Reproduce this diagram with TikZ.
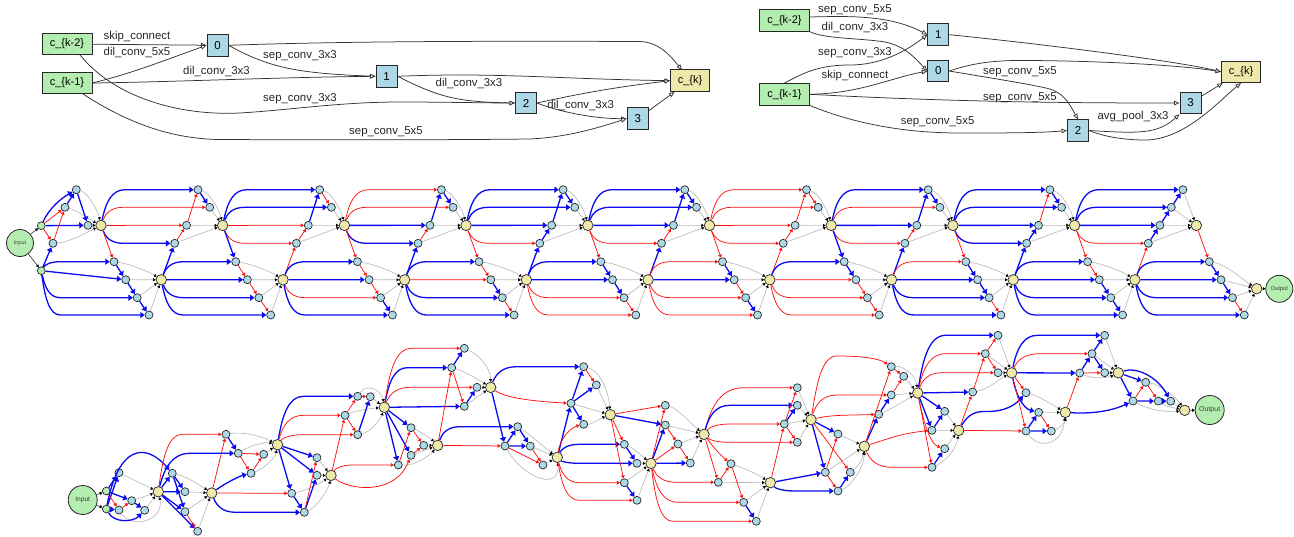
\documentclass[tikz,border=0pt]{standalone}
\usepackage{fontspec}
\setmainfont{Liberation Sans}
\usetikzlibrary{arrows.meta,calc}
\definecolor{ngreen}{HTML}{B4EDB0}
\definecolor{nblue}{HTML}{ADD8E6}
\definecolor{nyellow}{HTML}{EEE8AA}
\definecolor{redge}{HTML}{FF1010}
\definecolor{bedge}{HTML}{0A0AF0}
\tikzset{
  bb/.style={draw=bedge,line width=1.3pt,-{Triangle[length=4.4pt,width=6pt]}},
  rr/.style={draw=redge,line width=0.75pt,-{Triangle[length=3pt,width=3.6pt]}},
  gg/.style={draw=black!27,line width=0.65pt,-{Triangle[black,length=2.6pt,width=3.2pt]}},
  kk/.style={draw=black!80,line width=0.6pt,-{Triangle[black,length=2.6pt,width=3.2pt]}},
  te/.style={draw=black!80,line width=0.75pt,-{Triangle[open,fill=white,length=5.5pt,width=4.5pt]}},
  bn/.style={circle,draw=black!85,fill=nblue,line width=0.7pt,minimum size=8pt,inner sep=0pt},
  yn/.style={circle,draw=black!85,fill=nyellow,line width=0.7pt,minimum size=10.5pt,inner sep=0pt},
  gn/.style={circle,draw=black!85,fill=ngreen,line width=0.7pt,minimum size=7.8pt,inner sep=0pt},
  io/.style={circle,draw=black!85,fill=ngreen,line width=0.8pt,inner sep=0pt,text=black!75},
  boxg/.style={draw=black!85,fill=ngreen,line width=1pt,minimum height=21.5pt,minimum width=50pt,inner sep=0pt,font=\fontsize{11}{12}\selectfont},
  boxb/.style={draw=black!85,fill=nblue,line width=1pt,minimum height=21.5pt,minimum width=21pt,inner sep=0pt,font=\fontsize{11.5}{12}\selectfont},
  boxy/.style={draw=black!85,fill=nyellow,line width=1pt,minimum height=21.5pt,minimum width=39pt,inner sep=0pt,font=\fontsize{11}{12}\selectfont},
  lab/.style={inner sep=0pt,text=black!85,font=\fontsize{11.4}{12}\selectfont},
}
\newcommand\edgeS[3]{\draw[#1] (#2) -- (#3);}
\newcommand\edgeA[4]{\draw[#1] let \p1=(#2),\p2=(#3) in (#2) .. controls ({\x1+0.2*#4*1pt},{\y1+0.65*(\y2-\y1)}) and ({\x1+0.45*#4*1pt},\y2) .. ({\x1+#4*1pt},\y2) -- (#3);}
\newcommand\edgeB[5]{\draw[#1] (#2) .. controls #3 and #4 .. (#5);}
\newcommand\edgeC[4]{\draw[#1] (#2) #3 (#4);}
\begin{document}
\begin{tikzpicture}[x=1pt,y=-1pt]
\useasboundingbox (0,0) rectangle (1294,536);
% ---------- top left cell
\node[boxg] (a2) at (67,44) {c\_\{k-2\}};
\node[boxg] (a1) at (67,83) {c\_\{k-1\}};
\node[boxb] (a0n) at (217.5,45.3) {0};
\node[boxb] (a1n) at (386.5,76.3) {1};
\node[boxb] (a2n) at (526,103) {2};
\node[boxb] (a3n) at (637.7,118.7) {3};
\node[boxy] (ak) at (690,80.7) {c\_\{k\}};
\coordinate (a2s) at (80,55);
\coordinate (a1s) at (83,94);
\coordinate (akt) at (682,70);
\edgeS{te}{a2}{a0n}
\edgeB{te}{a1.east}{+(40,-10)}{+(-50,18)}{a0n.west}
\edgeB{te}{a1.east}{+(80,-1)}{+(-100,1)}{a1n.west}
\edgeB{te}{a0n.east}{+(40,22)}{+(-80,-3)}{a1n.west}
\edgeC{te}{a0n.east}{.. controls (350,41) and (500,41) .. (640,41.5) .. controls (660,42) and (672,58) ..}{akt}
\edgeB{te}{a1n.east}{+(100,-4)}{+(-120,-2)}{ak.west}
\edgeB{te}{a1n.east}{+(40,20)}{+(-60,-1)}{a2n.west}
\edgeC{te}{a2s}{.. controls (115,98) and (180,116) .. (240,113) .. controls (290,110) and (340,102) .. (400,102) .. controls (440,102) and (490,103) ..}{a2n.west}
\edgeB{te}{a2n.east}{+(50,-11)}{+(-50,6)}{ak.west}
\edgeB{te}{a2n.east}{+(20,8)}{+(-35,0)}{a3n.west}
\edgeS{te}{a3n}{ak}
\edgeC{te}{a1s}{.. controls (120,118) and (165,139) .. (220,139.5) .. controls (330,140) and (440,140) .. (530,139) .. controls (570,137) and (600,127) ..}{a3n.west}
\node[lab] (la1) at (137,36.5) {skip\_connect};
\node[lab] (la2) at (137,52.5) {dil\_conv\_5x5};
\node[lab] (la3) at (216.5,72) {dil\_conv\_3x3};
\node[lab] (la4) at (300,56) {sep\_conv\_3x3};
\node[lab] (la5) at (469,83) {dil\_conv\_3x3};
\node[lab] (la6) at (300,99) {sep\_conv\_3x3};
\node[lab] (la7) at (580.6,105) {dil\_conv\_3x3};
\node[lab] (la8) at (386,132) {sep\_conv\_5x5};
% ---------- top right cell
\node[boxg] (b2) at (784.5,20.5) {c\_\{k-2\}};
\node[boxg] (b1) at (784.5,94.3) {c\_\{k-1\}};
\node[boxb] (b1n) at (938.3,34.7) {1};
\node[boxb] (b0n) at (938.3,71) {0};
\node[boxb] (b2n) at (1078,130.5) {2};
\node[boxb] (b3n) at (1190.5,103) {3};
\node[boxy] (bk) at (1241,71.8) {c\_\{k\}};
\coordinate (b2e) at (809.5,17);
\edgeC{te}{b2e}{.. controls (850,16) and (890,15) ..}{b1n.west}
\edgeC{te}{b2.south east}{.. controls (825,39) and (860,38) .. (885,42) .. controls (905,46) and (915,58) ..}{b0n.west}
\edgeC{te}{b1.north}{.. controls (805,72) and (820,65) .. (850,65) .. controls (880,65) and (905,52) ..}{b1n.west}
\edgeB{te}{b1.east}{+(50,-1)}{+(-40,8)}{b0n.west}
\edgeB{te}{b1.east}{+(150,8)}{+(-100,0)}{b3n.west}
\edgeC{te}{b1.south east}{.. controls (850,122) and (900,133) .. (960,133) .. controls (1000,133) and (1040,133) ..}{b2n.west}
\edgeC{te}{b0n.east}{.. controls (975,62) and (1000,60) .. (1030,60.5) .. controls (1100,61) and (1180,65) ..}{bk.west}
\edgeB{te}{b1n.east}{+(100,10)}{+(-40,-10)}{bk.west}
\edgeC{te}{b0n.east}{.. controls (990,78) and (1030,84) .. (1050,89) .. controls (1065,94) and (1070,105) ..}{b2n.north}
\edgeB{te}{b2n.east}{+(50,3)}{+(-22,20)}{b3n.south west}
\edgeC{te}{b2n.east}{.. controls (1105,137) and (1125,140) .. (1145,140) .. controls (1185,140) and (1220,100) ..}{bk.south}
\edgeS{te}{b3n}{bk}
\node[lab] (lb1) at (855,10) {sep\_conv\_5x5};
\node[lab] (lb2) at (855,27.5) {dil\_conv\_3x3};
\node[lab] (lb3) at (855,53) {sep\_conv\_3x3};
\node[lab] (lb4) at (855,76) {skip\_connect};
\node[lab] (lb5) at (1020,71.3) {sep\_conv\_5x5};
\node[lab] (lb6) at (1020,97.5) {sep\_conv\_5x5};
\node[lab] (lb7) at (937.6,121.5) {sep\_conv\_5x5};
\node[lab] (lb8) at (1133,116.3) {avg\_pool\_3x3};
% ---------- row 1 nodes
\node[io,minimum size=27pt] (In1) at (20,243) {\fontsize{5.4}{6}\selectfont Input};
\node[gn] (YU-1) at (41.3,225.7) {};
\node[gn] (YL-1) at (41.3,270.7) {};
\foreach \kk/\tX/\mX/\hX in {0/76.3/65/88,1/76.3/88/64.9,2/76.3/88/64.9,3/76.3/88/64.9,4/76.3/88/64.9,5/76.3/88/64.9,6/76.3/88/64.9,7/76.3/88/64.9,8/76.3/88/64.9,9/87.6/76/64.6}{
  \pgfmathsetmacro\dx{121.7*\kk}
  \node[bn] (Ut\kk) at ({\tX+\dx},189.7) {};
  \node[bn] (Um\kk) at ({\mX+\dx},207.3) {};
  \node[bn] (Uh\kk) at ({\hX+\dx},225.3) {};
  \node[bn] (Ua\kk) at ({53+\dx},243.3) {};
  \node[yn] (YU\kk) at ({101+\dx},225.4) {};
  \node[bn] (La\kk) at ({114+\dx},261.7) {};
  \node[bn] (Lb\kk) at ({125.7+\dx},279.7) {};
  \node[bn] (Lc\kk) at ({137.2+\dx},297.7) {};
  \node[bn] (Ld\kk) at ({149+\dx},315) {};
}
\foreach \kk in {0,...,8}{\node[yn] (YL\kk) at ({161.3+121.7*\kk},279.8) {};}
\node[yn] (YL9) at (1256.7,288.7) {};
\node[io,minimum size=27pt] (Out1) at (1279.3,288.8) {\fontsize{5.8}{6}\selectfont Output};
\edgeS{kk}{In1}{YU-1}
\edgeS{kk}{In1}{YL-1}
\edgeS{kk}{YL9}{Out1}
% row 1 gray
\edgeB{gg}{Ut0}{+(12,3)}{+(-3,-14)}{YU0}
\edgeB{gg}{Um0}{+(12,3)}{+(-10,-5)}{YU0}
\edgeB{gg}{Ua0}{+(16,-1)}{+(-12,6)}{YU0}
\edgeS{gg}{Uh0}{YU0}
\foreach \kk in {1,...,8}{
  \edgeB{gg}{Ut\kk}{+(12,3)}{+(-3,-14)}{YU\kk}
  \edgeS{gg}{Um\kk}{YU\kk}
}
\edgeS{gg}{Ut9}{YU9}
\edgeS{gg}{Um9}{YU9}
\foreach \kk in {1,...,9}{
  \edgeS{gg}{Uh\kk}{YU\kk}
  \edgeS{gg}{Ua\kk}{YU\kk}
}
\foreach \kk in {0,...,9}{
  \edgeB{gg}{La\kk}{+(15,2)}{+(-12,-8)}{YL\kk}
  \edgeS{gg}{Lb\kk}{YL\kk}
  \edgeS{gg}{Lc\kk}{YL\kk}
  \edgeS{gg}{Ld\kk}{YL\kk}
}
% row 1 cell 0
\edgeB{bb}{YU-1}{+(8,-18)}{+(-14,8)}{Ut0}
\edgeS{rr}{YU-1}{Um0}
\edgeS{bb}{YU-1}{Uh0}
\edgeS{rr}{YU-1}{Ua0}
\edgeS{bb}{YL-1}{Ua0}
\edgeS{rr}{Ua0}{Um0}
\edgeS{bb}{Um0}{Ut0}
\edgeS{bb}{Ut0}{Uh0}
% row 1 upper cells
\foreach \kk/\cT/\cM/\cH/\cA/\cY/\nA/\eA/\nB/\eB/\nC/\eC in {
 1/bb/rr/rr/bb/bb/h/rr/t/rr/m/bb,
 2/bb/bb/rr/rr/rr/h/rr/t/bb/m/rr,
 3/rr/rr/bb/bb/bb/h/rr/t/bb/m/bb,
 4/bb/bb/bb/rr/bb/h/bb/t/bb/m/bb,
 5/bb/bb/bb/rr/bb/h/rr/t/bb/m/bb,
 6/rr/rr/rr/rr/rr/h/rr/t/rr/m/rr,
 7/bb/rr/bb/rr/bb/h/rr/t/bb/m/bb,
 8/bb/bb/bb/bb/bb/h/bb/t/rr/m/bb,
 9/bb/bb/bb/rr/rr/h/bb/m/bb/t/bb}{
  \pgfmathtruncatemacro\pk{\kk-1}
  \edgeA{\cT}{YU\pk}{Ut\kk}{24}
  \edgeA{\cM}{YU\pk}{Um\kk}{22}
  \edgeS{\cH}{YU\pk}{Uh\kk}
  \edgeA{\cA}{YU\pk}{Ua\kk}{22}
  \edgeS{\cY}{YL\pk}{Ua\kk}
  \edgeS{\eA}{Ua\kk}{U\nA\kk}
  \edgeS{\eB}{U\nA\kk}{U\nB\kk}
  \edgeS{\eC}{U\nB\kk}{U\nC\kk}
}
% row 1 lower cells
\foreach \kk/\cA/\cB/\cC/\cD/\cE/\eA/\eB/\eC/\rn in {
 0/bb/bb/bb/bb/rr/bb/bb/bb/19,
 1/bb/bb/bb/bb/bb/rr/rr/rr/22,
 2/bb/bb/rr/bb/rr/rr/rr/bb/22,
 3/bb/rr/bb/bb/rr/rr/bb/rr/22,
 4/bb/bb/rr/rr/rr/bb/bb/rr/22,
 5/rr/bb/rr/rr/rr/bb/rr/bb/22,
 6/bb/rr/rr/rr/bb/bb/rr/rr/22,
 7/rr/bb/bb/bb/rr/bb/bb/rr/22,
 8/bb/bb/bb/bb/rr/rr/bb/bb/22,
 9/bb/bb/bb/bb/rr/bb/bb/rr/22}{
  \pgfmathtruncatemacro\pk{\kk-1}
  \edgeA{\cA}{YL\pk}{La\kk}{\rn}
  \edgeS{\cB}{YL\pk}{Lb\kk}
  \edgeA{\cC}{YL\pk}{Lc\kk}{\rn}
  \edgeA{\cD}{YL\pk}{Ld\kk}{\rn}
  \edgeS{\cE}{YU\kk}{La\kk}
  \edgeS{\eA}{La\kk}{Lb\kk}
  \edgeS{\eB}{Lb\kk}{Lc\kk}
  \edgeS{\eC}{Lc\kk}{Ld\kk}
}
% ---------- row 3 nodes
\node[io,minimum size=29pt] (In2) at (82.7,500) {\fontsize{6.6}{7}\selectfont Input};
\node[gn] (Ga) at (106.3,491) {};
\node[gn] (Gb) at (106.3,509) {};
\foreach \nn/\xx/\yy in {
 P1/119/472.7,P2/119/510,P3/131.7/500.7,P4/144.7/510.3,
 B1/172.3/473.3,B2/185/491.7,B3/185/511.7,B4/197.7/531.3,
 C1/226/434.3,C2/238.3/453.3,C3/251/473.3,C4/263.7/454.3,
 D1/317/457.7,D2/317/475.3,D3/291.7/493.3,D4/304.3/512.3,
 E1/345/415.3,E2/357.7/396.3,E3/370.3/396.7,E4/357.7/434.7,
 F1/411/427.7,F2/423.7/445.3,F3/398.3/465,F4/411/455.3,
 G1/451.7/367.7,G2/464.3/348.3,G3/477/387.3,G4/464.3/406.3,
 H1/517.7/426.7,H2/505/446,H3/530.3/446.1,H4/543/465,
 I1/583.7/366.7,I2/571/403.3,I3/596.3/385,I4/583.7/424.3,
 J1/624.3/444.3,J2/637/463.3,J3/624.3/482.7,J4/637/500.3,
 K1/665.3/405.3,K2/665.3/425,K3/678/444,K4/690.3/463,
 L1/731/463.7,L2/718.3/482.3,L3/743.7/502.3,L4/756.3/521.3,
 M1/797.3/387.7,M2/797.3/405.3,M3/784.3/424,M4/797.3/442.3,
 N1/838/434,N2/825.3/472.3,N3/850.3/472.3,N4/838/491,
 O1/878.7/414.3,O2/891.3/366.7,O3/903.7/376.3,O4/891.3/395,
 V1/932/430.3,V2/944.7/411.3,V3/944.7/448.7,V4/932/467.3,
 Q1/972.7/392,Q2/985.3/353.7,Q3/998/372.7,Q4/998/335.3,
 R1/1026/392.7,R2/1038.7/412.3,R3/1026/431,R4/1051.3/431.1,
 S1/1079.7/373,S2/1092/353.7,S3/1104.7/335.3,S4/1104.7/372.7,
 T1/1133/401,T2/1145.7/382.3,T3/1158.3/401.1,T4/1170.7/401.2}{
  \node[bn] (\nn) at (\xx,\yy) {};
}
\foreach \nn/\xx/\yy in {
 yP/158.3/491.8,yB/211.7/493,yC/277.5/444.7,yD/331/475.4,yE/384.3/407.3,
 yF/437.7/445.4,yG/490.7/387.4,yH/557.3/457.3,yI/610.3/414.7,yJ/651/463.4,
 yK/704/434.3,yL/770.3/482.7,yM/811/419.7,yN/864.3/446.3,yO/917.7/393,
 yV/958.7/430.4,yQ/1011.7/372.8,yR/1065.3/412.4,yS/1118.3/372.8,yT/1184.7/410.3}{
  \node[yn] (\nn) at (\xx,\yy) {};
}
\node[io,minimum size=29pt] (Out2) at (1209.7,410) {\fontsize{7}{8}\selectfont Output};
\edgeS{kk}{In2}{Ga}
\edgeS{kk}{In2}{Gb}
\edgeS{kk}{yT}{Out2}
% row 3 gray
\edgeS{gg}{P1}{yP}
\edgeS{gg}{P3}{yP}
\edgeS{gg}{P4}{yP}
\edgeB{gg}{P2}{+(14,20)}{+(6,28)}{yP}
\edgeB{gg}{B1}{+(14,3)}{+(-12,-8)}{yB}
\edgeS{gg}{B2}{yB}
\edgeS{gg}{B3}{yB}
\edgeS{gg}{B4}{yB}
\edgeB{gg}{C1}{+(18,-3)}{+(-15,-8)}{yC}
\edgeB{gg}{C2}{+(12,-8)}{+(-12,-3)}{yC}
\edgeS{gg}{C4}{yC}
\edgeB{gg}{C3}{+(14,-5)}{+(-2,12)}{yC}
\edgeS{gg}{D1}{yD}
\edgeS{gg}{D2}{yD}
\edgeB{gg}{D3}{+(16,-3)}{+(-8,6)}{yD}
\edgeB{gg}{D4}{+(14,-6)}{+(-2,12)}{yD}
\edgeB{gg}{E2}{+(10,-15)}{+(-2,-15)}{yE}
\edgeB{gg}{E1}{+(12,-5)}{+(-12,1)}{yE}
\edgeS{gg}{E3}{yE}
\edgeB{gg}{E4}{+(14,-3)}{+(-3,10)}{yE}
\edgeB{gg}{F1}{+(8,3)}{+(-6,-6)}{yF}
\edgeS{gg}{F2}{yF}
\edgeS{gg}{F4}{yF}
\edgeB{gg}{F3}{+(18,1)}{+(-6,8)}{yF}
\edgeB{gg}{G2}{+(14,6)}{+(0,-20)}{yG}
\edgeB{gg}{G1}{+(12,3)}{+(-8,-5)}{yG}
\edgeS{gg}{G3}{yG}
\edgeS{gg}{G4}{yG}
\edgeB{gg}{H1}{+(10,6)}{+(-8,-6)}{yH}
\edgeS{gg}{H3}{yH}
\edgeB{gg}{H2}{+(20,34)}{+(3,33)}{yH}
\edgeS{gg}{H4}{yH}
\edgeB{gg}{I1}{+(16,4)}{+(-2,-25)}{yI}
\edgeS{gg}{I3}{yI}
\edgeS{gg}{I2}{yI}
\edgeB{gg}{I4}{+(8,0)}{+(-8,3)}{yI}
\edgeB{gg}{J1}{+(8,3)}{+(-6,-5)}{yJ}
\edgeS{gg}{J2}{yJ}
\edgeS{gg}{J3}{yJ}
\edgeS{gg}{J4}{yJ}
\edgeB{gg}{K1}{+(12,3)}{+(-10,-8)}{yK}
\edgeS{gg}{K2}{yK}
\edgeS{gg}{K3}{yK}
\edgeS{gg}{K4}{yK}
\edgeB{gg}{L1}{+(12,4)}{+(-12,-8)}{yL}
\edgeS{gg}{L2}{yL}
\edgeS{gg}{L3}{yL}
\edgeS{gg}{L4}{yL}
\edgeS{gg}{M1}{yM}
\edgeS{gg}{M2}{yM}
\edgeS{gg}{M3}{yM}
\edgeS{gg}{M4}{yM}
\edgeS{gg}{N1}{yN}
\edgeS{gg}{N2}{yN}
\edgeB{gg}{N3}{+(8,-6)}{+(-1,12)}{yN}
\edgeB{gg}{N4}{+(14,-5)}{+(0,20)}{yN}
\edgeB{gg}{O2}{+(12,-1)}{+(-2,-18)}{yO}
\edgeS{gg}{O3}{yO}
\edgeS{gg}{O4}{yO}
\edgeB{gg}{O1}{+(12,-5)}{+(-10,6)}{yO}
\edgeS{gg}{V1}{yV}
\edgeS{gg}{V2}{yV}
\edgeS{gg}{V3}{yV}
\edgeB{gg}{V4}{+(14,-6)}{+(-2,18)}{yV}
\edgeS{gg}{Q4}{yQ}
\edgeS{gg}{Q2}{yQ}
\edgeS{gg}{Q3}{yQ}
\edgeB{gg}{Q1}{+(14,-2)}{+(-12,6)}{yQ}
\edgeB{gg}{R1}{+(12,3)}{+(-10,-6)}{yR}
\edgeS{gg}{R2}{yR}
\edgeB{gg}{R4}{+(8,-3)}{+(0,10)}{yR}
\edgeB{gg}{R3}{+(12,18)}{+(-3,34)}{yR}
\edgeS{gg}{S3}{yS}
\edgeS{gg}{S2}{yS}
\edgeS{gg}{S4}{yS}
\edgeB{gg}{S1}{+(12,6)}{+(-10,5)}{yS}
\edgeB{gg}{T2}{+(14,2)}{+(-8,-12)}{yT}
\edgeS{gg}{T4}{yT}
\edgeB{gg}{T3}{+(8,6)}{+(-8,-2)}{yT}
\edgeB{gg}{T1}{+(18,10)}{+(-14,2)}{yT}
% row 3 colour edges
\edgeS{bb}{Ga}{P1}
\edgeS{bb}{Gb}{P1}
\edgeS{bb}{Ga}{P3}
\edgeS{rr}{Ga}{P2}
\edgeS{bb}{Gb}{P2}
\edgeS{rr}{P2}{P3}
\edgeS{bb}{P3}{P4}
\edgeB{bb}{Gb}{+(8,14)}{+(-12,12)}{P4}
\edgeB{bb}{Gb}{+(12,-62)}{+(-28,-32)}{B1}
\edgeS{bb}{yP}{B1}
\edgeS{bb}{yP}{B2}
\edgeS{bb}{yP}{B3}
\edgeS{bb}{yP}{B4}
\edgeS{bb}{B1}{B2}
\edgeS{bb}{B1}{B3}
\edgeS{rr}{B3}{B4}
\edgeA{rr}{yP}{C1}{24}
\edgeA{bb}{yP}{C2}{32}
\edgeS{rr}{yB}{C1}
\edgeB{bb}{yB}{+(14,-10)}{+(-12,3)}{C3}
\edgeS{bb}{C1}{C2}
\edgeS{rr}{C2}{C3}
\edgeS{rr}{C2}{C4}
\edgeS{rr}{C3}{C4}
\edgeS{rr}{yB}{D3}
\edgeA{bb}{yB}{D4}{24}
\edgeS{bb}{yC}{D1}
\edgeS{bb}{yC}{D2}
\edgeS{bb}{yC}{D3}
\edgeS{bb}{D3}{D4}
\edgeS{bb}{D4}{D2}
\edgeS{rr}{D4}{D1}
\edgeA{bb}{yC}{E2}{26}
\edgeA{rr}{yC}{E1}{26}
\edgeA{rr}{yC}{E4}{26}
\edgeS{rr}{yD}{E1}
\edgeS{rr}{E1}{E2}
\edgeS{rr}{E1}{E4}
\edgeS{rr}{E2}{E3}
\edgeS{bb}{E4}{E3}
\edgeS{bb}{yE}{F1}
\edgeS{bb}{yE}{F3}
\edgeS{bb}{yE}{F4}
\edgeA{rr}{yD}{F3}{22}
\edgeB{rr}{yD}{+(19,15)}{+(-16,40)}{F4}
\edgeS{rr}{F3}{F1}
\edgeS{rr}{F1}{F2}
\edgeS{rr}{F4}{F2}
\edgeA{bb}{yE}{G1}{23}
\edgeA{rr}{yE}{G2}{27}
\edgeA{rr}{yE}{G3}{26}
\edgeS{bb}{yE}{G4}
\edgeS{rr}{yF}{G1}
\edgeS{bb}{G1}{G2}
\edgeS{rr}{G1}{G4}
\edgeS{bb}{G4}{G3}
\edgeA{bb}{yF}{H1}{22}
\edgeS{rr}{yF}{H2}
\edgeS{bb}{yG}{H2}
\edgeS{bb}{H2}{H1}
\edgeS{bb}{H1}{H3}
\edgeS{bb}{H2}{H3}
\edgeS{rr}{H2}{H4}
\edgeS{rr}{H3}{H4}
\edgeA{bb}{yG}{I1}{26}
\edgeB{rr}{yG}{+(14,10)}{+(-40,-2)}{I2}
\edgeS{bb}{yH}{I2}
\edgeB{rr}{yH}{+(3,-20)}{+(-12,3)}{I4}
\edgeS{bb}{I2}{I1}
\edgeS{bb}{I2}{I3}
\edgeS{rr}{I1}{I3}
\edgeS{bb}{I2}{I4}
\edgeA{bb}{yH}{J1}{22}
\edgeA{bb}{yH}{J2}{22}
\edgeA{rr}{yH}{J3}{22}
\edgeA{rr}{yH}{J4}{22}
\edgeS{rr}{yI}{J1}
\edgeS{rr}{yI}{J3}
\edgeS{bb}{J1}{J2}
\edgeS{bb}{J3}{J4}
\edgeS{rr}{yI}{K1}
\edgeS{bb}{yI}{K2}
\edgeS{rr}{yJ}{K1}
\edgeS{bb}{yJ}{K2}
\edgeS{rr}{yJ}{K3}
\edgeS{bb}{yJ}{K4}
\edgeS{rr}{K2}{K3}
\edgeS{rr}{K3}{K4}
\edgeA{rr}{yJ}{L2}{25}
\edgeA{rr}{yJ}{L3}{27}
\edgeA{rr}{yJ}{L4}{22}
\edgeB{rr}{yK}{+(10,14)}{+(-10,-8)}{L1}
\edgeS{rr}{yK}{L2}
\edgeS{rr}{L2}{L1}
\edgeS{rr}{L1}{L3}
\edgeS{bb}{L3}{L4}
\edgeA{rr}{yK}{M1}{40}
\edgeA{bb}{yK}{M2}{26}
\edgeA{rr}{yK}{M3}{26}
\edgeA{rr}{yK}{M4}{26}
\edgeS{rr}{yL}{M3}
\edgeS{rr}{M3}{M1}
\edgeS{bb}{M3}{M2}
\edgeS{rr}{M3}{M4}
\edgeS{bb}{yL}{N2}
\edgeA{bb}{yL}{N4}{25}
\edgeS{bb}{yM}{N1}
\edgeS{bb}{yM}{N2}
\edgeS{rr}{yM}{N3}
\edgeS{rr}{N2}{N1}
\edgeS{rr}{N2}{N4}
\edgeS{bb}{N4}{N3}
\edgeB{rr}{yM}{+(20,-5)}{+(-30,1)}{O1}
\edgeC{rr}{yM}{.. controls (817,382) and (822,356) .. (837,356) .. controls (860,356) and (878,358) ..}{O2}
\edgeA{rr}{yM}{O4}{26}
\edgeS{bb}{yN}{O1}
\edgeS{rr}{yN}{O2}
\edgeS{bb}{O1}{O4}
\edgeS{rr}{O2}{O3}
\edgeS{rr}{O4}{O3}
\edgeB{rr}{yN}{+(25,-8)}{+(-30,3)}{V1}
\edgeA{rr}{yN}{V4}{28}
\edgeS{bb}{yO}{V1}
\edgeS{bb}{yO}{V2}
\edgeS{rr}{yO}{V4}
\edgeB{rr}{yO}{+(8,40)}{+(-12,-4)}{V3}
\edgeS{bb}{V1}{V2}
\edgeS{bb}{V4}{V3}
\edgeA{bb}{yO}{Q4}{28}
\edgeA{rr}{yO}{Q2}{28}
\edgeA{rr}{yO}{Q3}{24}
\edgeS{bb}{yO}{Q1}
\edgeS{rr}{yV}{Q1}
\edgeS{rr}{Q1}{Q2}
\edgeS{rr}{Q2}{Q4}
\edgeS{rr}{Q2}{Q3}
\edgeC{bb}{yV}{.. controls (966,418) and (972,411) .. (985,411.5) .. controls (1005,412) and (1015,405) ..}{R1}
\edgeS{rr}{yV}{R3}
\edgeS{rr}{yQ}{R1}
\edgeB{bb}{yQ}{+(6,30)}{+(-12,-3)}{R2}
\edgeS{rr}{yQ}{R3}
\edgeS{bb}{R3}{R2}
\edgeS{bb}{R3}{R4}
\edgeS{rr}{R2}{R4}
\edgeA{bb}{yQ}{S3}{26}
\edgeA{rr}{yQ}{S2}{28}
\edgeS{bb}{yQ}{S1}
\edgeS{rr}{yR}{S1}
\edgeS{bb}{S1}{S2}
\edgeS{bb}{S2}{S3}
\edgeS{bb}{S2}{S4}
\edgeS{rr}{S1}{S4}
\edgeB{bb}{yR}{+(35,2)}{+(-15,7)}{T1}
\edgeS{bb}{yS}{T1}
\edgeS{bb}{yS}{T2}
\edgeB{bb}{yS}{+(18,-6)}{+(-14,-25)}{T4}
\edgeS{rr}{T1}{T2}
\edgeS{rr}{T2}{T3}
\edgeS{bb}{T1}{T3}
\edgeS{bb}{T3}{T4}
\end{tikzpicture}
\end{document}
